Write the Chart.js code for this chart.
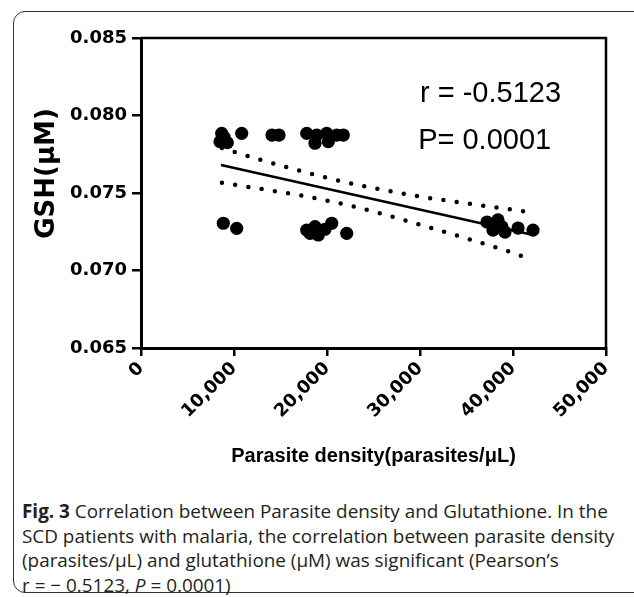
<!DOCTYPE html>
<html>
<head>
<meta charset="utf-8">
<script src="https://cdn.jsdelivr.net/npm/chart.js@4/dist/chart.umd.min.js"></script>
<style>
  html, body { margin: 0; padding: 0; background: #fff; }
  body { width: 634px; height: 597px; position: relative; overflow: hidden; }
  #frame { position: absolute; left: 13px; top: 11px; width: 640px; height: 582px;
           border: 1.5px solid #333; border-radius: 12px; box-sizing: border-box; }
  #chart { position: absolute; left: 0; top: 0; }
  #caption { position: absolute; left: 22px; top: 499px; font-family: "Open Sans", "Noto Sans", sans-serif;
             font-size: 18.9px; line-height: 24.5px; color: #231f20; white-space: nowrap; }
  #caption b { font-weight: 700; }
</style>
</head>
<body>
<div id="frame"></div>
<canvas id="chart" width="634" height="480"></canvas>
<div id="caption">
<b>Fig. 3</b> Correlation between Parasite density and Glutathione. In the<br>
SCD patients with malaria, the correlation between parasite density<br>
(parasites/μL) and glutathione (μM) was significant (Pearson’s<br>
r = − 0.5123, <i>P</i> = 0.0001)
</div>
<script>
// ---- data ----
const densityX = [8678, 8495, 9280, 8925, 10828, 14086, 14839, 17818, 18893, 18710, 19968, 20140, 21043, 21753,
                  8850, 10290, 17818, 18172, 18710, 19065, 19785, 20506, 22119,
                  37205, 38388, 37850, 38818, 39140, 40540, 42151];
const gshY = [0.07885, 0.07831, 0.07825, 0.07861, 0.07885, 0.07874, 0.07874, 0.07885, 0.07874, 0.07821, 0.07885, 0.07831, 0.07874, 0.07874,
              0.07305, 0.07272, 0.07261, 0.07240, 0.07283, 0.07229, 0.07266, 0.07305, 0.07240,
              0.07313, 0.07326, 0.07261, 0.07281, 0.07248, 0.07274, 0.07261];
const fitX = [8600, 42180];
const fitY = [0.07681, 0.07229];
const bandX = [8700, 12900, 17300, 21700, 26100, 30500, 34950, 39350, 42150];
const upperY = [0.07790, 0.07713, 0.07640, 0.07573, 0.07519, 0.07472, 0.07434, 0.07397, 0.07374];
const lowerY = [0.07566, 0.07526, 0.07483, 0.07429, 0.07363, 0.07287, 0.07208, 0.07126, 0.07068];
const xTicks = [0, 10000, 20000, 30000, 40000, 50000];
const yTicks = [0.065, 0.070, 0.075, 0.080, 0.085];
const xTitle = 'Parasite density(parasites/μL)';
const yTitle = 'GSH(μM)';
const notes = ['r = -0.5123', 'P= 0.0001'];
const noteX = [30000, 29800];
const noteY = [0.08090, 0.07784];

const pts = (xs, ys) => xs.map((x, i) => ({ x, y: ys[i] }));

const frameBox = {
  id: 'frameBox',
  afterDatasetsDraw(chart) {
    const { ctx, chartArea: a } = chart;
    ctx.save();
    ctx.strokeStyle = '#000';
    ctx.lineWidth = 2.5;
    ctx.beginPath();
    ctx.moveTo(a.left, a.top); ctx.lineTo(a.right, a.top); ctx.lineTo(a.right, a.bottom);
    ctx.stroke();
    // annotations
    ctx.fillStyle = '#000';
    ctx.font = '29px "Liberation Sans", Arial, sans-serif';
    ctx.textAlign = 'left';
    ctx.textBaseline = 'alphabetic';
    notes.forEach((t, i) => {
      ctx.fillText(t, chart.scales.x.getPixelForValue(noteX[i]), chart.scales.y.getPixelForValue(noteY[i]));
    });
    // y axis title
    ctx.translate(47.5, 173.5);
    ctx.rotate(-Math.PI / 2);
    ctx.textAlign = 'center';
    ctx.textBaseline = 'middle';
    ctx.font = 'bold 26px "DejaVu Sans", sans-serif';
    ctx.fillText(yTitle, 0, 0);
    ctx.restore();
  }
};

const tickFont = { family: '"DejaVu Sans"', size: 18, weight: 'bold' };

new Chart(document.getElementById('chart'), {
  type: 'scatter',
  data: {
    datasets: [
      { data: pts(densityX, gshY), backgroundColor: '#000', borderWidth: 0, pointRadius: 6.6, pointHoverRadius: 6.6 },
      { type: 'line', data: pts(fitX, fitY), borderColor: '#000', borderWidth: 2.5, pointRadius: 0, fill: false },
      { type: 'line', data: pts(bandX, upperY), borderColor: '#000', borderWidth: 4.5, borderDash: [0, 13.4],
        borderCapStyle: 'round', pointRadius: 0, fill: false, cubicInterpolationMode: 'monotone' },
      { type: 'line', data: pts(bandX, lowerY), borderColor: '#000', borderWidth: 4.5, borderDash: [0, 13.4],
        borderCapStyle: 'round', pointRadius: 0, fill: false, cubicInterpolationMode: 'monotone' }
    ]
  },
  options: {
    responsive: false,
    animation: false,
    devicePixelRatio: 1,
    layout: { padding: { left: 0, top: 38, right: 28, bottom: 8 } },
    plugins: { legend: { display: false }, tooltip: { enabled: false } },
    scales: {
      x: {
        type: 'linear', min: 0, max: 50000,
        afterBuildTicks: s => { s.ticks = xTicks.map(v => ({ value: v })); },
        afterFit: s => { s.height = 124; },
        ticks: { minRotation: 45, maxRotation: 45, color: '#000', font: tickFont, padding: 2,
                 callback: v => v.toLocaleString('en-US') },
        grid: { drawOnChartArea: false, drawTicks: true, tickLength: 8, color: '#000', lineWidth: 2.5 },
        border: { color: '#000', width: 3 },
        title: { display: true, text: xTitle, color: '#000',
                 font: { family: '"Liberation Sans"', size: 20, weight: 'bold' }, padding: { top: 0, bottom: 4 } }
      },
      y: {
        type: 'linear', min: 0.065, max: 0.085,
        afterBuildTicks: s => { s.ticks = yTicks.map(v => ({ value: v })); },
        afterFit: s => { s.width = 141; },
        ticks: { color: '#000', font: tickFont, padding: 5, callback: v => v.toFixed(3) },
        grid: { drawOnChartArea: false, drawTicks: true, tickLength: 9, color: '#000', lineWidth: 2.5 },
        border: { color: '#000', width: 3 }
      }
    }
  },
  plugins: [frameBox]
});
</script>
</body>
</html>
